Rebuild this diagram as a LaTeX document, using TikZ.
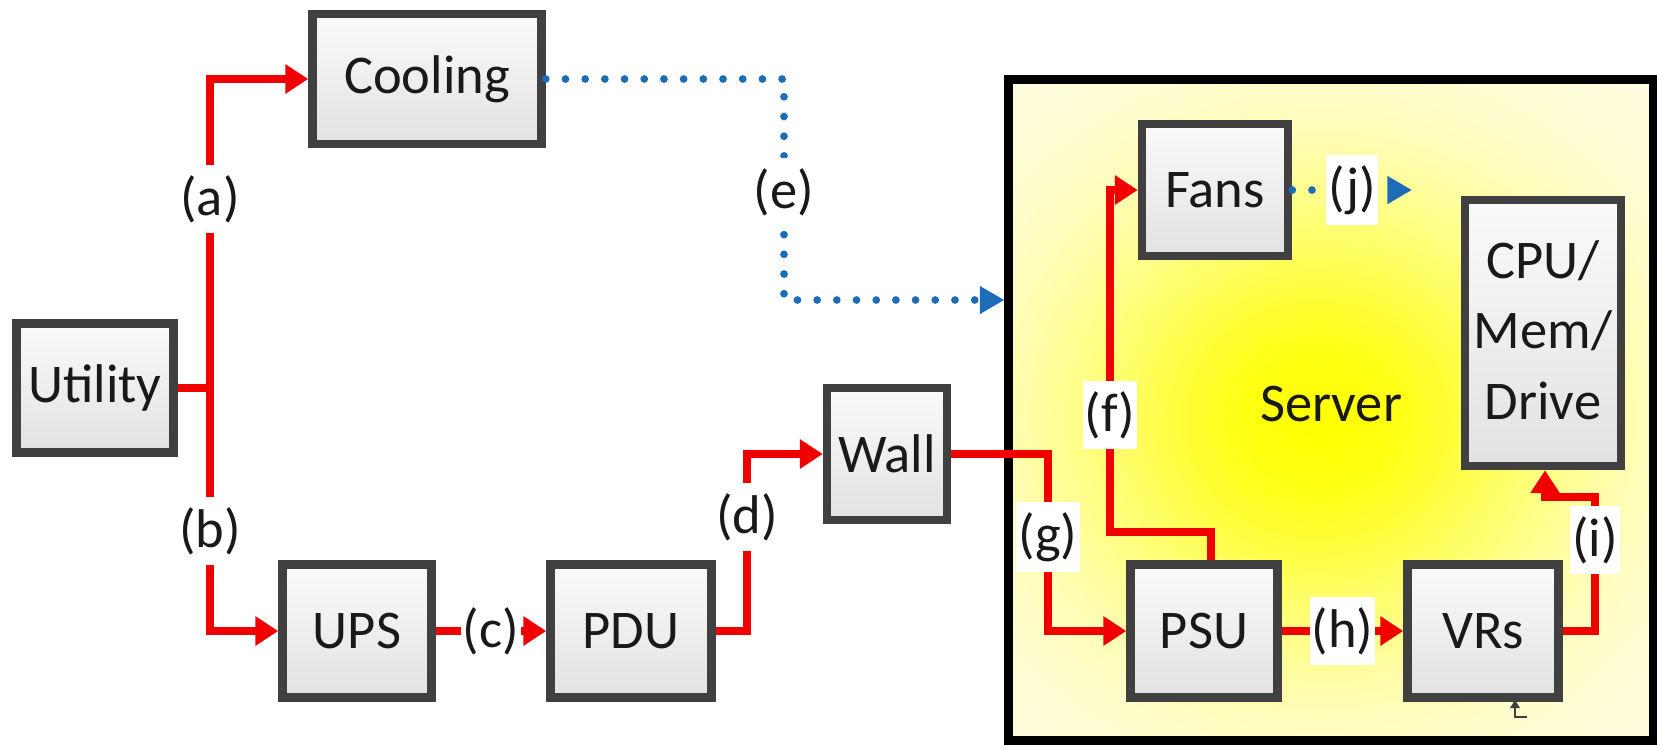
\documentclass[tikz,border=0pt]{standalone}
\usepackage{fontspec}
\setmainfont{Carlito}
\usetikzlibrary{arrows.meta}
\definecolor{boxline}{RGB}{64,64,64}
\definecolor{pwr}{RGB}{240,0,0}
\definecolor{air}{RGB}{28,108,186}
\definecolor{boxtop}{RGB}{250,250,250}
\definecolor{boxbot}{RGB}{226,226,226}
\definecolor{palebg}{RGB}{255,253,228}
\definecolor{glowcore}{RGB}{255,255,0}
\tikzset{
  txt/.style={font=\fontsize{15.5}{19}\selectfont, text=black!90},
  blk/.style={txt, draw=boxline, line width=2.4pt, top color=boxtop, bottom color=boxbot,
    inner sep=0pt, minimum height=13.2mm, align=center},
  lab/.style={txt, fill=white, inner xsep=0.6pt, inner ysep=3pt},
  pwrline/.style={draw=pwr, line width=2.3pt},
  pwrarrow/.style={pwrline, -{Triangle[length=6.5pt,width=8pt]}},
  airarrow/.style={draw=air, line width=2.2pt, line cap=round, dash pattern=on 0pt off 5.6pt,
    -{Triangle[length=7pt,width=7.5pt]}}
}
\begin{document}
\begin{tikzpicture}[x=0.01cm, y=-0.01cm]
\useasboundingbox (0,0) rectangle (1657,744);
% server background glow
\fill[palebg] (1009,80) rectangle (1653,740);
\begin{scope}
  \clip (1009,80) rectangle (1653,740);
  \foreach \k in {75,74,...,1}{
    \pgfmathsetmacro{\r}{6*\k}
    \pgfmathtruncatemacro{\p}{100*exp(-(\r/235)^2)}
    \fill[glowcore!\p!palebg] (1318,420) ellipse ({1.1*\r} and {\r});
  }
\end{scope}
\node[txt, draw=black, line width=2.5pt, minimum width=64.4mm, minimum height=66mm, inner sep=0pt] (Server) at (1331,410) {};
\node[txt] (ServerText) at (1331,404) {Server};

% boxes
\node[blk, minimum width=22.9mm, minimum height=13.0mm] (Cooling) at (427,79) {Cooling};
\node[blk, minimum width=15.7mm, minimum height=12.9mm] (Utility) at (95,388) {Utility};
\node[blk, minimum width=14.9mm, minimum height=13.3mm] (UPS) at (357,631) {UPS};
\node[blk, minimum width=16.1mm, minimum height=13.3mm] (PDU) at (631,631) {PDU};
\node[blk, minimum width=12.0mm] (Wall) at (887,454) {Wall};
\node[blk, minimum width=14.6mm] (Fans) at (1215,190) {Fans};
\node[blk, minimum width=15.6mm, minimum height=26.6mm] (CPU) at (1543,333) {};
\node[txt, align=center, font=\fontsize{15.5}{20}\selectfont] (CPUText) at (1543,330) {CPU/\\Mem/\\Drive};
\node[blk, minimum width=14.7mm, minimum height=13.3mm] (PSU) at (1204,631) {PSU};
\node[blk, minimum width=15.1mm, minimum height=13.3mm] (VRs) at (1483,631) {VRs};

% coordinates
\coordinate (jn) at (210,388);
\coordinate (d1) at (747,631);
\coordinate (g1) at (1048,454);
\coordinate (f1) at (1211,532);
\coordinate (f2) at (1110,532);
\coordinate (i1) at (1595,631);
\coordinate (i2) at (1595,497);
\coordinate (i3) at (1545,497);
\coordinate (e1) at (784,79);
\coordinate (e2) at (784,300);
\coordinate (jend) at (1412,190);

% power connectors
\draw[pwrline] (Utility.east) -- (jn);
\draw[pwrarrow] (jn) |- (Cooling.west);
\draw[pwrarrow] (jn) |- (UPS.west);
\draw[pwrarrow] (UPS.east) -- (PDU.west) node[lab, midway] (lc) {(c)};
\draw[pwrarrow] (PDU.east) -- (d1) |- (Wall.west);
\draw[pwrarrow] (Wall.east) -- (g1) |- (PSU.west);
\draw[pwrarrow] (PSU.north -| f1) -- (f1) -- (f2) |- (Fans.west);
\draw[pwrarrow] (PSU.east) -- (VRs.west) node[lab, midway] (lh) {(h)};
\draw[pwrarrow] (VRs.east) -- (i1) -- (i2) -- (i3) -- (i3 |- CPU.south);

% air connectors
\draw[airarrow] (Cooling.east) -- (e1) -- (e2) -- (e2 -| Server.west);
\draw[airarrow] (Fans.east) -- (jend);

% labels
\node[lab] (la) at (210,199) {(a)};
\node[lab] (lb) at (210,531) {(b)};
\node[lab] (ld) at (747,517) {(d)};
\node[lab] (le) at (784,192) {(e)};
\node[lab] (lf) at (1110,415) {(f)};
\node[lab] (lg) at (1048,537) {(g)};
\node[lab] (li) at (1595,540) {(i)};
\node[lab] (lj) at (1352,190) {(j)};

% small stray mark below VRs
\draw[boxline, line width=0.6pt] (1527,717) -- (1515,717) -- (1515,706);
\fill[boxline] (1510,708) -- (1515,700) -- (1520,708) -- cycle;
\end{tikzpicture}
\end{document}
